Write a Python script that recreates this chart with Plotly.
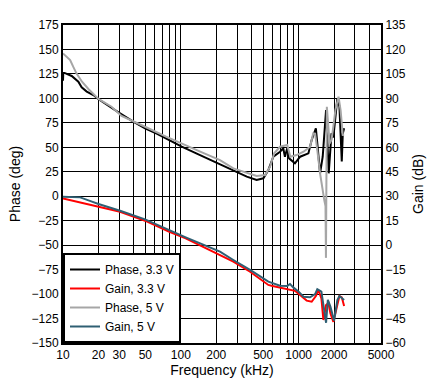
import plotly.graph_objects as go

# ---------------- data ----------------
phase33_f = [10, 10.05, 10.3, 11.85, 13.5, 14.4, 15.9, 18.1, 19.9, 26.7, 30.5, 39.5, 49.7, 62.4,
             101.8, 145.6, 202, 279, 363, 440, 502, 553, 610, 695, 740, 765, 800, 830, 930,
             1030, 1210, 1290, 1400, 1440, 1520, 1600, 1709, 1800, 1900, 1970, 2130, 2220,
             2323, 2370, 2432]
phase33_v = [118, 126, 126, 122.9, 117, 111.3, 106.9, 103.4, 99.4, 89, 84.7, 76.2, 69.4, 64,
             50.6, 42.1, 34.3, 26.8, 20, 16.6, 18.3, 26.8, 40.4, 45.5, 49, 40.4, 49, 38.7, 33.6,
             40.4, 43.8, 57.5, 69.4, 54, 23.4, 40.4, 88, 23.4, 64.3, 60, 100, 91.5,
             35.6, 64, 69.4]

gain33_f = [10, 13.1, 20, 30.5, 49.7, 80, 110, 145, 202, 279, 387, 470, 553, 600, 695, 845,
            930, 1028, 1170, 1290, 1400, 1470, 1560, 1622, 1709, 1790, 1860, 1972, 2080,
            2218, 2323, 2432]
gain33_v = [28.7, 26.7, 24, 20.5, 15, 8.2, 4.2, 0.1, -5, -10.1, -16.3, -21, -24.4, -25, -26.1,
            -27.1, -28, -30.6, -34, -34.7, -31.2, -27.5, -32.6, -45.9, -36.7, -35.5, -41.8,
            -47, -39.8, -31.2, -32, -37.3]

phase5_f = [10, 10.6, 11.5, 12.2, 13, 14.5, 16.5, 20, 25.8, 31.4, 39.5, 49.7, 75, 102, 146,
            215, 279, 440, 520, 572, 620, 695, 800, 850, 960, 1100, 1250, 1330, 1380, 1440,
            1520, 1650, 1690, 1705, 1720, 1735, 1830, 1900, 1970, 2050, 2180, 2270, 2370,
            2432]
phase5_v = [146, 143.3, 139.2, 132.4, 125.6, 117, 109.3, 99.4, 91.5, 82, 76.9, 71, 60.9, 53.4,
            45.5, 37, 28.5, 20.7, 21.7, 30.2, 43.9, 50.6, 52.4, 40.4, 42.1, 45.5, 50.6, 64.3,
            64, 47.2, 23.4, -3.9, -10, -63, 60, 91.5, 54, 57.5, 71, 88, 101.7, 88, 62.6,
            62.6]

gain5_f = [10, 11.8, 14, 17.6, 20, 30.5, 49.7, 110, 145, 215, 279, 387, 553, 695, 800, 845,
           900, 1000, 1100, 1250, 1380, 1440, 1560, 1600, 1709, 1770, 1860, 2000, 2130,
           2218, 2432]
gain5_v = [29.7, 29.7, 29.3, 26.7, 25.2, 21.1, 15.8, 4.8, 1.1, -4, -9.1, -15.2, -22.4, -24.9,
           -25, -23.8, -25.9, -28.5, -31.6, -32, -30, -27, -28.5, -34.7, -47.6, -33.6, -37.7,
           -46.3, -33.6, -31.2, -33.6]

x_tickvals = [10, 20, 30, 40, 50, 60, 70, 80, 90, 100, 200, 300, 400, 500, 600, 700, 800, 900,
              1000, 2000, 3000, 4000, 5000]
x_ticktext = ["10", "20", "30", "", "50", "", "", "", "", "100", "200", "", "", "500", "", "",
              "", "", "1000", "2000", "", "", "5000"]
phase_ticks = list(range(-150, 176, 25))
gain_ticks = list(range(-60, 136, 15))

FONT = "Liberation Sans, Arial, sans-serif"

fig = go.Figure()
fig.add_trace(go.Scatter(x=phase33_f, y=phase33_v, mode="lines", name="Phase, 3.3 V",
                         line=dict(color="#000000", width=2), yaxis="y"))
fig.add_trace(go.Scatter(x=gain33_f, y=gain33_v, mode="lines", name="Gain, 3.3 V",
                         line=dict(color="#FF0000", width=2), yaxis="y2"))
fig.add_trace(go.Scatter(x=phase5_f, y=phase5_v, mode="lines", name="Phase, 5 V",
                         line=dict(color="#A6A6A6", width=2), yaxis="y"))
fig.add_trace(go.Scatter(x=gain5_f, y=gain5_v, mode="lines", name="Gain, 5 V",
                         line=dict(color="#2F5F73", width=2), yaxis="y2"))

fig.update_layout(
    width=438, height=391,
    margin=dict(l=63, r=57, t=25, b=48, autoexpand=False),
    paper_bgcolor="white", plot_bgcolor="white",
    font=dict(family=FONT, size=12, color="#000000"),
    showlegend=True,
    legend=dict(x=0, y=0, xanchor="left", yanchor="bottom", bgcolor="white",
                bordercolor="black", borderwidth=2, font=dict(size=12),
                itemwidth=30, tracegroupgap=0),
    xaxis=dict(type="log", range=[1, 3.69897], tickmode="array", tickvals=x_tickvals,
               ticktext=x_ticktext, showgrid=True, gridcolor="black", gridwidth=1,
               showline=True, linecolor="black", linewidth=2, mirror=True, ticks="",
               automargin=False,
               title=dict(text="Frequency (kHz)", standoff=4), zeroline=False),
    yaxis=dict(range=[-150, 175], tickmode="array", tickvals=phase_ticks, showgrid=True,
               gridcolor="black", gridwidth=1, showline=True, linecolor="black", linewidth=2,
               mirror=True, ticks="", zeroline=False, automargin=False,
               title=dict(text="Phase (deg)", standoff=8)),
    yaxis2=dict(range=[-60, 135], tickmode="array", tickvals=gain_ticks, overlaying="y",
                side="right", showgrid=False, showline=True, linecolor="black", linewidth=2,
                ticks="", zeroline=False, automargin=False,
                title=dict(text="Gain (dB)", standoff=8)),
)

fig.write_html("out.html", config={"displayModeBar": False},
               post_script="document.body.style.margin='0';")
